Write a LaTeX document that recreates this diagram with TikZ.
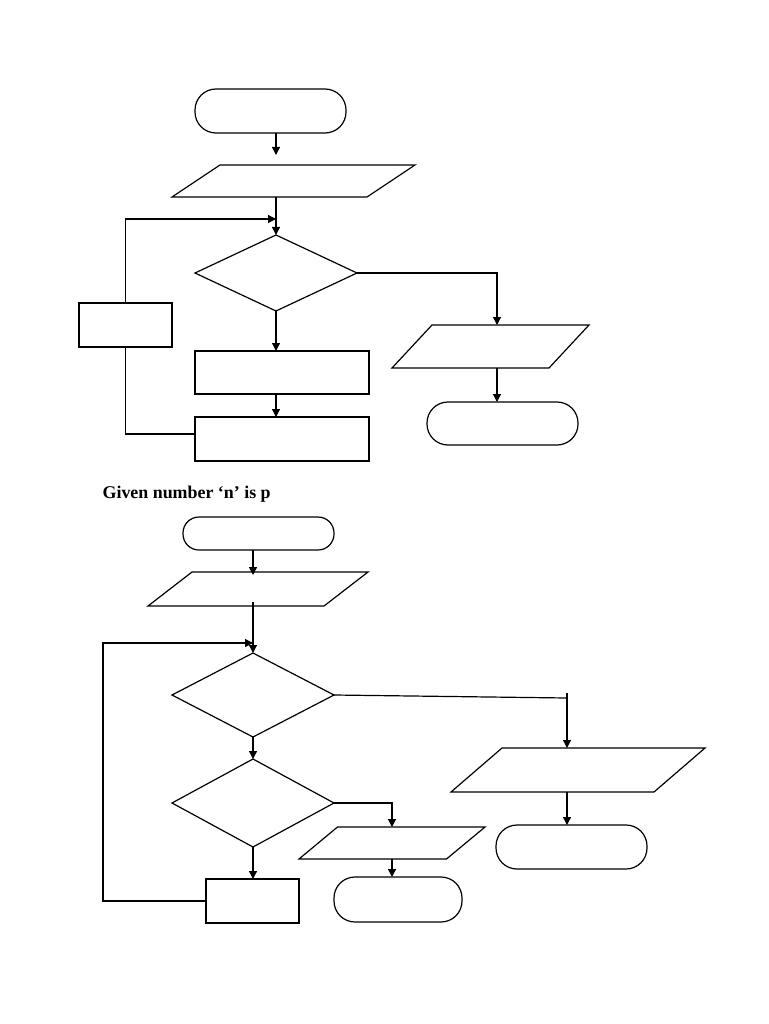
\documentclass[tikz,border=0pt]{standalone}
\usepackage{fontspec}
\setmainfont{Liberation Serif}
\usetikzlibrary{shapes.geometric,arrows.meta,calc}
\newcommand{\iobox}[6]{%
  \node[minimum width=#4, minimum height=#5, inner sep=0, outer sep=0, draw=none] (#1) at (#2,#3) {};
  \draw ([xshift=-#6/2]#1.south west) -- ([xshift=-#6/2]#1.south east) -- ([xshift=#6/2]#1.north east) -- ([xshift=#6/2]#1.north west) -- cycle;}
\begin{document}
\begin{tikzpicture}[x=1pt,y=-1pt,line width=1.2pt,
  base/.style={draw, line width=1.2pt, inner sep=0, outer sep=0},
  termbox/.style={base, rectangle, rounded corners=21pt},
  procbox/.style={base, rectangle},
  decbox/.style={base, diamond},
  arr/.style={-{Triangle[length=8pt,width=8pt]}}]
\useasboundingbox (0,0) rectangle (768,1024);
% ---------- top chart ----------
\node[termbox, minimum width=151, minimum height=44] (s1) at (270.5,111) {};
\iobox{in1}{293.5}{181}{195}{32}{48}
\node[decbox, minimum width=162, minimum height=76] (d1) at (276,273) {};
\node[procbox, minimum width=174, minimum height=43] (r1) at (282,372.5) {};
\node[procbox, minimum width=174, minimum height=44] (r2) at (282,439) {};
\node[procbox, minimum width=93, minimum height=44] (b1) at (125.5,325) {};
\iobox{o1}{490.5}{346.5}{157}{43}{40}
\node[termbox, minimum width=151, minimum height=43] (e1) at (502.5,423.5) {};
\draw[arr] (d1 |- s1.south) -- ($(d1 |- in1.north)+(0,-10)$);
\draw[arr] (d1 |- in1.south) -- (d1.north);
\draw[arr] (d1.south) -- (d1 |- r1.north);
\draw[arr] (d1 |- r1.south) -- (d1 |- r2.north);
\coordinate (x1) at (497,274);
\draw[arr] (d1.east) -| (x1 |- o1.north);
\draw[arr] (x1 |- o1.south) -- (x1 |- e1.north);
\draw ($(r2.west)+(0,-5)$) -| (b1.south);
\coordinate (j1) at (276,219);
\draw[arr] (b1.north) |- (j1);
% ---------- bottom chart ----------
\node[anchor=base west, inner sep=0, font=\bfseries\fontsize{17.9}{20}\selectfont] (title) at (102,498.7) {Given number ‘n’ is p};
\node[termbox, rounded corners=16pt, minimum width=151, minimum height=33] (s2) at (258.5,533.5) {};
\iobox{in2}{258}{589}{176}{34}{44}
\node[decbox, minimum width=162, minimum height=84] (d2) at (253,695) {};
\node[decbox, minimum width=162, minimum height=88] (d3) at (253,803) {};
\iobox{o2}{578}{770}{203}{44}{51}
\node[termbox, minimum width=151, minimum height=44] (e2) at (571.5,847) {};
\iobox{o3}{392}{843}{147.5}{32}{38.5}
\node[termbox, minimum width=128, minimum height=45] (e3) at (398,899.5) {};
\node[procbox, minimum width=93, minimum height=44] (b2) at (252.5,901) {};
\draw[arr] (d2 |- s2.south) -- ($(d2 |- in2.north)+(0,3)$);
\draw[arr] ($(d2 |- in2.south)+(0,-4)$) -- (d2.north);
\coordinate (j2) at (253,643);
\coordinate (k2) at (103,901);
\draw[arr] (b2.west) -- (k2) |- (j2);
\draw[arr] (d2.south) -- (d3.north);
\coordinate (x2) at (567,698);
\draw (d2.east) -- (x2);
\draw[arr] ($(x2)+(0,-5)$) -- (x2 |- o2.north);
\draw[arr] (x2 |- o2.south) -- (x2 |- e2.north);
\draw[arr] (d3.east) -| (o3.north);
\draw[arr] (o3.south) -- (o3.south |- e3.north);
\draw[arr] (d3.south) -- (d3 |- b2.north);
\end{tikzpicture}
\end{document}
